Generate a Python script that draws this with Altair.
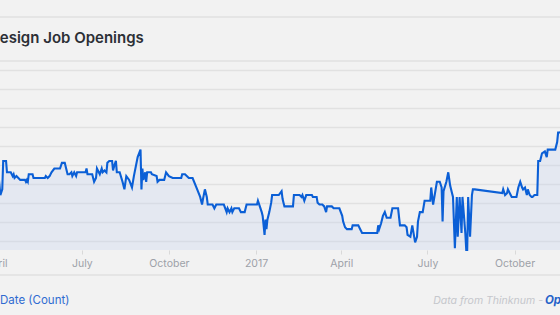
import altair as alt
import pandas as pd

# ---- data ----
dates = [
    "2016-03-26", "2016-04-04", "2016-04-06", "2016-04-08", "2016-04-09", "2016-04-12", "2016-04-13",
    "2016-04-17", "2016-04-19", "2016-04-20", "2016-04-21", "2016-04-23", "2016-04-25", "2016-04-27",
    "2016-05-02", "2016-05-03", "2016-05-04", "2016-05-05", "2016-05-06", "2016-05-10", "2016-05-11",
    "2016-05-23", "2016-05-24", "2016-05-26", "2016-05-28", "2016-05-30", "2016-06-02", "2016-06-08",
    "2016-06-10", "2016-06-13", "2016-06-15", "2016-06-16", "2016-06-18", "2016-06-20", "2016-06-21",
    "2016-06-23", "2016-06-25", "2016-06-26", "2016-06-28", "2016-07-05", "2016-07-06", "2016-07-07",
    "2016-07-09", "2016-07-12", "2016-07-14", "2016-07-16", "2016-07-17", "2016-07-20", "2016-07-22",
    "2016-07-23", "2016-07-25", "2016-07-27", "2016-07-28", "2016-07-30", "2016-08-02", "2016-08-03",
    "2016-08-04", "2016-08-06", "2016-08-07", "2016-08-10", "2016-08-13", "2016-08-15", "2016-08-17",
    "2016-08-20", "2016-08-23", "2016-08-25", "2016-08-29", "2016-09-01", "2016-09-02", "2016-09-03",
    "2016-09-04", "2016-09-06", "2016-09-07", "2016-09-08", "2016-09-12", "2016-09-13", "2016-09-18",
    "2016-09-19", "2016-09-21", "2016-09-26", "2016-09-28", "2016-10-01", "2016-10-05", "2016-10-14",
    "2016-10-15", "2016-10-18", "2016-10-22", "2016-10-26", "2016-10-30", "2016-11-03", "2016-11-05",
    "2016-11-06", "2016-11-08", "2016-11-10", "2016-11-11", "2016-11-16", "2016-11-18", "2016-11-20",
    "2016-11-28", "2016-12-01", "2016-12-02", "2016-12-04", "2016-12-06", "2016-12-07", "2016-12-09",
    "2016-12-14", "2016-12-16", "2016-12-20", "2016-12-22", "2017-01-02", "2017-01-03", "2017-01-05",
    "2017-01-07", "2017-01-08", "2017-01-10", "2017-01-11", "2017-01-12", "2017-01-13", "2017-01-15",
    "2017-01-17", "2017-01-18", "2017-01-25", "2017-01-28", "2017-01-29", "2017-01-30", "2017-01-31",
    "2017-02-09", "2017-02-10", "2017-02-16", "2017-02-18", "2017-02-19", "2017-02-21", "2017-02-23",
    "2017-02-24", "2017-03-01", "2017-03-02", "2017-03-06", "2017-03-07", "2017-03-09", "2017-03-12",
    "2017-03-14", "2017-03-16", "2017-03-17", "2017-03-22", "2017-03-24", "2017-03-30", "2017-04-02",
    "2017-04-03", "2017-04-05", "2017-04-07", "2017-04-12", "2017-04-13", "2017-04-19", "2017-04-21",
    "2017-04-23", "2017-05-09", "2017-05-10", "2017-05-11", "2017-05-13", "2017-05-15", "2017-05-17",
    "2017-05-19", "2017-05-23", "2017-05-25", "2017-05-31", "2017-06-02", "2017-06-07", "2017-06-09",
    "2017-06-10", "2017-06-13", "2017-06-15", "2017-06-16", "2017-06-18", "2017-06-20", "2017-06-21",
    "2017-06-23", "2017-06-26", "2017-06-28", "2017-07-01", "2017-07-04", "2017-07-05", "2017-07-07",
    "2017-07-08", "2017-07-11", "2017-07-14", "2017-07-16", "2017-07-17", "2017-07-18", "2017-07-21",
    "2017-07-23", "2017-07-25", "2017-07-27", "2017-07-28", "2017-07-30", "2017-08-01", "2017-08-02",
    "2017-08-04", "2017-08-06", "2017-08-07", "2017-08-10", "2017-08-11", "2017-08-12", "2017-08-13",
    "2017-08-15", "2017-08-17", "2017-08-18", "2017-08-20", "2017-09-18", "2017-09-19", "2017-09-21",
    "2017-09-23", "2017-09-24", "2017-09-26", "2017-09-28", "2017-10-03", "2017-10-05", "2017-10-07",
    "2017-10-09", "2017-10-10", "2017-10-12", "2017-10-14", "2017-10-15", "2017-10-17", "2017-10-19",
    "2017-10-20", "2017-10-22", "2017-10-25", "2017-10-26", "2017-10-28", "2017-10-30", "2017-11-02",
    "2017-11-04", "2017-11-05", "2017-11-13", "2017-11-15", "2017-11-16", "2017-11-18", "2017-11-20",
]
counts = [
    85, 85, 74, 77, 92, 92, 86,
    86, 84, 85, 83, 84, 83, 82,
    82, 81, 82, 81, 85, 85, 83,
    83, 84, 83, 84, 86, 88, 88,
    91, 91, 87, 85, 85, 86, 84,
    86, 84, 86, 86, 86, 88, 85,
    85, 85, 81, 83, 88, 85, 88,
    86, 87, 86, 91, 92, 92, 87,
    89, 92, 86, 86, 81, 77, 84,
    82, 78, 84, 94, 98, 77, 88,
    82, 86, 81, 86, 86, 85, 84,
    81, 82, 82, 86, 84, 83, 83,
    85, 85, 83, 83, 78, 73, 69,
    72, 77, 73, 69, 69, 67, 69,
    69, 65, 67, 65, 67, 65, 67,
    67, 65, 65, 69, 69, 71, 68,
    65, 63, 53, 61, 56, 61, 65,
    70, 74, 74, 76, 72, 70, 68,
    68, 74, 74, 73, 74, 71, 74,
    74, 74, 73, 73, 70, 69, 69,
    68, 65, 68, 68, 67, 67, 63,
    60, 57, 56, 56, 58, 58, 56,
    54, 54, 58, 56, 59, 63, 65,
    62, 62, 67, 67, 58, 58, 57,
    53, 52, 58, 55, 49, 52, 60,
    65, 65, 71, 71, 71, 78, 69,
    72, 81, 81, 78, 60, 76, 81,
    86, 79, 75, 73, 46, 73, 52,
    73, 54, 73, 54, 45, 45, 73,
    52, 74, 77, 77, 75, 77, 74,
    75, 77, 75, 73, 73, 78, 81,
    78, 77, 78, 74, 77, 74, 73,
    73, 74, 74, 92, 92, 96, 97,
    94, 98, 98, 102, 107, 107, 108,
]
tick_dates = ["2016-04-01", "2016-07-01", "2016-10-01", "2017-01-01",
              "2017-04-01", "2017-07-01", "2017-10-01"]
grid_counts = [50, 60, 70, 80, 90, 100, 110, 120, 130, 140]
count_floor = 45
view_start = "2016-03-25"
view_end = "2017-11-18"

title_text = "Design Job Openings"
legend_text = "Date (Count)"
source_text = "Data from Thinknum - "
link_text = "Op"


def to_dt(s):
    y, m, d = (int(p) for p in s.split("-"))
    return alt.DateTime(year=y, month=m, date=d)


df = pd.DataFrame({"date": pd.to_datetime(dates), "count": counts})

FONT = "Inter"
LINE = "#0b5fd6"
GRID = "#e1e1e1"

x_enc = alt.X(
    "date:T",
    scale=alt.Scale(domain=[to_dt(view_start), to_dt(view_end)], range=[-11, 560]),
    axis=alt.Axis(
        values=[to_dt(s) for s in tick_dates],
        labelExpr="month(datum.value) == 0 ? timeFormat(datum.value, '%Y') : timeFormat(datum.value, '%B')",
        title=None, grid=False, domain=False,
        ticks=True, tickSize=4, tickColor="#d9d9d9",
        labelColor="#9da1a8", labelFont=FONT, labelFontSize=10.5,
        labelPadding=4, labelFlush=False, labelOverlap=False,
    ),
)
y_enc = alt.Y(
    "count:Q",
    scale=alt.Scale(domain=[count_floor, grid_counts[-1]], nice=False, zero=False),
    axis=alt.Axis(values=grid_counts, labels=False, ticks=False, domain=False,
                  title=None, grid=True, gridColor=GRID, gridWidth=1.5),
)

base = alt.Chart(df).encode(x=x_enc, y=y_enc)

area = base.mark_area(color="#c6d4ee", opacity=0.32).encode(y2=alt.datum(count_floor))
line = base.mark_line(color=LINE, strokeWidth=2.1)


def rule_at(ypix):
    return alt.Chart(pd.DataFrame({"k": [0]})).mark_rule(color=GRID, strokeWidth=1.5).encode(
        x=alt.value(0), x2=alt.value(560), y=alt.value(ypix)
    )


def label(text, xpix, ypix, align="left", **kw):
    return alt.Chart(pd.DataFrame({"t": [text]})).mark_text(
        align=align, baseline="alphabetic", font=FONT, **kw
    ).encode(text="t:N", x=alt.value(xpix), y=alt.value(ypix))


title = label(title_text, -11, -27, fontSize=15, fontWeight=600, color="#2c2f36")
legend = label(legend_text, 0, 234, fontSize=11.5, color="#2f6bd1")
source = label(source_text, 543, 234, align="right", fontSize=10.5, fontStyle="italic", color="#c5c7cc")
link = label(link_text, 545, 234, fontSize=11.5, fontStyle="italic", fontWeight="bold", color="#2563c9")

chart = alt.layer(
    rule_at(-53), rule_at(-9), rule_at(205),
    area, line, title, legend, source, link,
).properties(
    width=560,
    height=180,
    autosize="none",
    padding={"top": 70, "left": 0, "right": 0, "bottom": 65},
).configure(background="#f2f2f2").configure_view(stroke=None)

chart.save("out.html", embed_options={"renderer": "svg", "actions": False})
